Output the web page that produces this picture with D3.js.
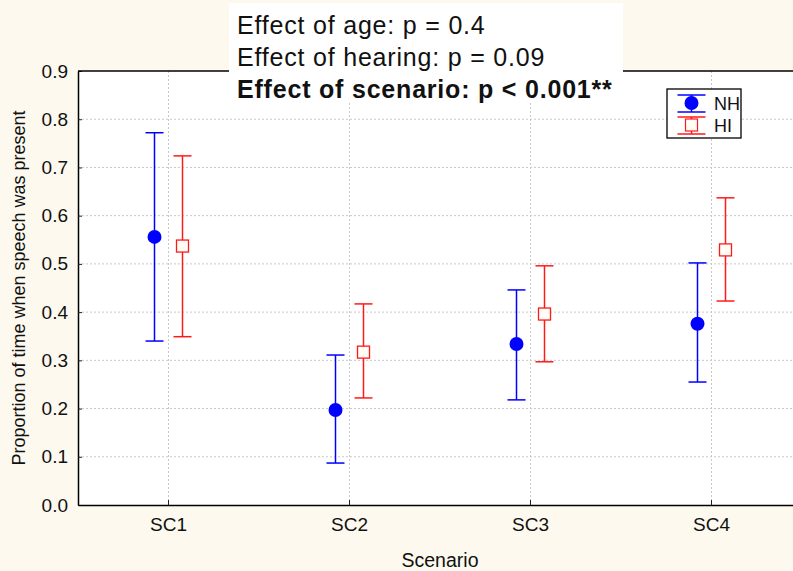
<!DOCTYPE html>
<html>
<head>
<meta charset="utf-8">
<script src="https://cdn.jsdelivr.net/npm/d3@7"></script>
<style>
body { margin: 0; background: #fdf9ee; }
svg { display: block; font-family: "Liberation Sans", Arial, sans-serif; }
.grid line { stroke: #c8c8c8; stroke-dasharray: 2,2; }
</style>
</head>
<body>
<svg id="chart" width="793" height="571"></svg>
<script>
var scenarios = ["SC1", "SC2", "SC3", "SC4"];
var nhMean = [0.556, 0.197, 0.334, 0.376],
	nhLow = [0.340, 0.087, 0.218, 0.255],
	nhHigh = [0.772, 0.311, 0.446, 0.502];
var hiMean = [0.537, 0.317, 0.396, 0.529],
	hiLow = [0.349, 0.222, 0.297, 0.423],
	hiHigh = [0.724, 0.417, 0.496, 0.637];
var yTicks = [0, 0.1, 0.2, 0.3, 0.4, 0.5, 0.6, 0.7, 0.8, 0.9];
var notes = ["Effect of age: p = 0.4", "Effect of hearing: p = 0.09", "Effect of scenario: p < 0.001**"];

var svg = d3.select("#chart");
var pLeft = 78, pRight = 802, pTop = 71, pBottom = 505;

var x = d3.scaleBand().domain(scenarios).range([pLeft, pRight]);
var y = d3.scaleLinear().domain([0, 0.9]).range([pBottom, pTop]);
var xc = function(s) { return x(s) + x.bandwidth() / 2; };

// plot area
svg.append("rect")
	.attr("x", pLeft).attr("y", pTop)
	.attr("width", pRight - pLeft).attr("height", pBottom - pTop)
	.attr("fill", "white");

// grid
var grid = svg.append("g").attr("class", "grid");
grid.selectAll(".gy").data(yTicks.slice(1, -1)).enter().append("line")
	.attr("x1", pLeft).attr("x2", pRight)
	.attr("y1", function(d) { return y(d); }).attr("y2", function(d) { return y(d); });
grid.selectAll(".gx").data(scenarios).enter().append("line")
	.attr("x1", xc).attr("x2", xc)
	.attr("y1", pTop).attr("y2", pBottom);

// axes
var yAxis = svg.append("g")
	.attr("transform", "translate(" + pLeft + ",0)")
	.call(d3.axisLeft(y).tickValues(yTicks).tickFormat(d3.format(".1f")).tickSizeInner(-4).tickSizeOuter(0).tickPadding(10));
var xAxis = svg.append("g")
	.attr("transform", "translate(0," + pBottom + ")")
	.call(d3.axisBottom(x).tickSizeInner(-5).tickSizeOuter(0).tickPadding(13));
[yAxis, xAxis].forEach(function(a) {
	a.attr("font-size", 19).attr("font-family", "Liberation Sans, Arial, sans-serif");
	a.select(".domain").attr("stroke", "black").attr("stroke-width", 1.5);
	a.selectAll("text").attr("fill", "#111");
	a.selectAll(".tick line").attr("stroke", "#222");
});
svg.append("line")
	.attr("x1", pLeft).attr("x2", pRight)
	.attr("y1", pTop).attr("y2", pTop)
	.attr("stroke", "black").attr("stroke-width", 1.5);

// axis titles
svg.append("text")
	.attr("transform", "translate(25," + ((pTop + pBottom) / 2) + ") rotate(-90)")
	.attr("text-anchor", "middle")
	.attr("font-size", 18)
	.attr("fill", "#111")
	.text("Proportion of time when speech was present");
svg.append("text")
	.attr("x", 440).attr("y", 567)
	.attr("text-anchor", "middle")
	.attr("font-size", 19.5)
	.attr("fill", "#111")
	.text("Scenario");

// error bars
var series = [
	{ name: "NH", mean: nhMean, low: nhLow, high: nhHigh, color: "#0000ff", dx: -14 },
	{ name: "HI", mean: hiMean, low: hiLow, high: hiHigh, color: "#ff1a1a", dx: 14 }
];
var cap = 9;
series.forEach(function(s) {
	var g = svg.append("g");
	scenarios.forEach(function(sc, i) {
		var cx = xc(sc) + s.dx;
		g.append("line")
			.attr("x1", cx).attr("x2", cx)
			.attr("y1", y(s.low[i])).attr("y2", y(s.high[i]))
			.attr("stroke", s.color).attr("stroke-width", 1.5);
		[s.low[i], s.high[i]].forEach(function(v) {
			g.append("line")
				.attr("x1", cx - cap).attr("x2", cx + cap)
				.attr("y1", y(v)).attr("y2", y(v))
				.attr("stroke", s.color).attr("stroke-width", 1.5);
		});
		if (s.name == "NH") {
			g.append("circle")
				.attr("cx", cx).attr("cy", y(s.mean[i]))
				.attr("r", 7)
				.attr("fill", s.color);
		} else {
			g.append("rect")
				.attr("x", cx - 6).attr("y", y(s.mean[i]) - 6)
				.attr("width", 12).attr("height", 12)
				.attr("fill", "#fffdf5")
				.attr("stroke", s.color).attr("stroke-width", 1.3);
		}
	});
});

// legend
var lg = svg.append("g").attr("transform", "translate(667,89)");
lg.append("rect").attr("width", 74).attr("height", 49)
	.attr("fill", "white").attr("stroke", "black").attr("stroke-width", 1.3);
series.forEach(function(s, i) {
	var cy = 14 + i * 22;
	var row = lg.append("g").attr("transform", "translate(24.5," + cy + ")");
	row.append("line").attr("x1", -14).attr("x2", 14).attr("y1", -8).attr("y2", -8).attr("stroke", s.color).attr("stroke-width", 1.5);
	row.append("line").attr("x1", -14).attr("x2", 14).attr("y1", 9).attr("y2", 9).attr("stroke", s.color).attr("stroke-width", 1.5);
	row.append("line").attr("x1", 0).attr("x2", 0).attr("y1", -8).attr("y2", 9).attr("stroke", s.color).attr("stroke-width", 1.5);
	if (s.name == "NH") {
		row.append("circle").attr("r", 7).attr("fill", s.color);
	} else {
		row.append("rect").attr("x", -6).attr("y", -6).attr("width", 12).attr("height", 12)
			.attr("fill", "#fffdf5").attr("stroke", s.color).attr("stroke-width", 1.2);
	}
	lg.append("text").attr("x", 47).attr("y", cy + 7)
		.attr("font-size", 18).attr("fill", "#111").text(s.name);
});

// annotation box
var ng = svg.append("g");
ng.append("rect").attr("x", 229).attr("y", 3).attr("width", 394).attr("height", 100).attr("fill", "white");
notes.forEach(function(t, i) {
	ng.append("text")
		.attr("x", 237).attr("y", 34 + i * 32)
		.attr("font-size", 25)
		.attr("letter-spacing", 0.8)
		.attr("font-weight", i == 2 ? "bold" : "normal")
		.attr("fill", "#111")
		.text(t);
});
</script>
</body>
</html>
